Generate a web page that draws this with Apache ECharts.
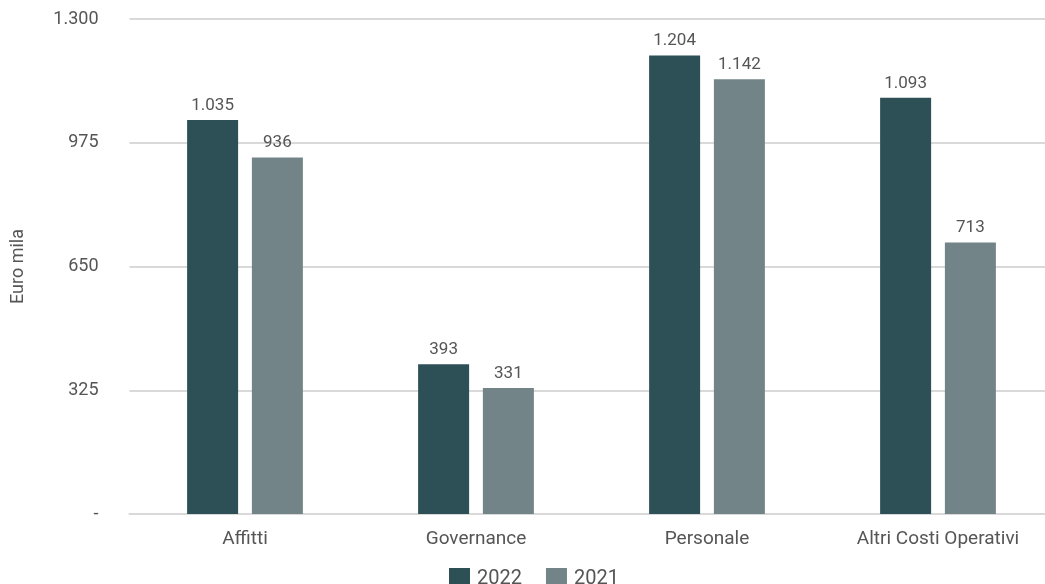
<!DOCTYPE html>
<html><head><meta charset="utf-8">
<script src="https://cdn.jsdelivr.net/npm/echarts@6/dist/echarts.min.js"></script>
<style>html,body{margin:0;padding:0;background:#fff;overflow:hidden;width:1045px;height:584px}#c{width:1080px;height:584px}</style>
</head><body><div id="c"></div>
<script>
const categories = ["Affitti", "Governance", "Personale", "Altri Costi Operativi"];
const values2022 = [1035, 393, 1204, 1093];
const values2021 = [936, 331, 1142, 713];
const yTicks = [0, 325, 650, 975, 1300];

function fmt(v){ if(v===0) return "-"; return String(v).replace(/\B(?=(\d{3})+(?!\d))/g, "."); }

const font = "Roboto";
const chart = echarts.init(document.getElementById('c'), null, {renderer:'canvas'});
chart.setOption({
  animation:false,
  textStyle:{fontFamily:font},
  grid:{left:129.5, top:19, width:924, height:495},
  legend:{top:563, left:444, itemWidth:21, itemHeight:21, itemGap:24,
    textStyle:{fontFamily:font, fontSize:20, color:'#555', padding:[0,0,0,2]}, icon:'rect',
    data:['2022','2021']},
  xAxis:{type:'category', data:categories,
    axisLine:{lineStyle:{color:'#d9d9d9', width:2}}, axisTick:{show:false},
    axisLabel:{fontFamily:font, fontSize:19, color:'#555', margin:16}},
  yAxis:{type:'value', min:0, max:1300, interval:325,
    name:'Euro mila', nameLocation:'middle', nameRotate:90, nameGap:102,
    nameTextStyle:{fontFamily:font, fontSize:18, color:'#555'},
    axisLine:{show:false}, axisTick:{show:false},
    splitLine:{lineStyle:{color:'#d9d9d9', width:2}},
    axisLabel:{fontFamily:font, fontSize:18, color:'#555', margin:31,
      formatter:fmt}},
  series:[
    {name:'2022', type:'bar', data:values2022, barWidth:51, barGap:'27%',
     itemStyle:{color:'#2d4f56'},
     label:{show:true, position:'top', distance:6, fontFamily:font, fontSize:17, color:'#555', formatter:p=>fmt(p.value)}},
    {name:'2021', type:'bar', data:values2021, barWidth:51,
     itemStyle:{color:'#728487'},
     label:{show:true, position:'top', distance:6, fontFamily:font, fontSize:17, color:'#555', formatter:p=>fmt(p.value)}}
  ]
});
</script></body></html>
